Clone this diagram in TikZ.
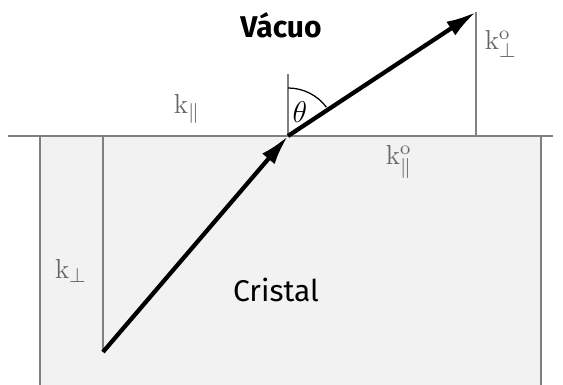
\documentclass[tikz,border=0pt]{standalone}
\usepackage{amsmath,amssymb}
\usepackage{fontspec}
\newfontfamily\labelfont{Fira Sans}
\usepackage{xcolor}
\usetikzlibrary{arrows.meta,calc,positioning}
\definecolor{crystalfill}{HTML}{F2F2F2}
\definecolor{linegray}{HTML}{808080}
\definecolor{labelgray}{HTML}{666666}
\tikzset{
  thinline/.style={draw=linegray,line width=0.6pt},
  kvec/.style={line width=1.7pt,-{Latex[length=12pt,width=6.5pt]}},
  klabel/.style={text=labelgray,inner sep=1pt,font=\fontsize{11}{13}\selectfont}
}

\begin{document}
\begin{tikzpicture}[x=0.4pt,y=0.4pt]
  \useasboundingbox (0,0) rectangle (563,385);
  \fill[crystalfill] (40,0) rectangle (541,249);
  \draw[thinline] (40,0) -- (40,249);
  \draw[thinline] (541,0) -- (541,249);
  \draw[thinline] (8,249) -- (553,249);
  \coordinate (O) at (288,249);
  \coordinate (S) at (103,33);
  \coordinate (Sp) at (103,249);
  \coordinate (E) at (476,373);
  \coordinate (Ep) at (476,249);
  \coordinate (N) at (288,311);
  \draw[thinline] (Sp) -- (S);
  \draw[thinline] (Ep) -- (E);
  \draw[thinline] (O) -- (N);
  \draw[line width=0.5pt] ($(O)+(0,48)$) arc[start angle=90,end angle=36.9,radius=48];
  \draw[kvec] (S) -- (O);
  \draw[kvec] (O) -- (E);
  \node (theta) at (300,273) {\large$\theta$};
  \node[klabel] (kpar) at (187,276) {$\mathrm{k}_{\parallel}$};
  \node[klabel] (kparo) at (399,223) {$\mathrm{k}^{\mathrm{o}}_{\parallel}$};
  \node[klabel] (kperpo) at (501,341) {$\mathrm{k}^{\mathrm{o}}_{\perp}$};
  \node[klabel] (kperp) at (71,114) {$\mathrm{k}_{\perp}$};
  \node (vacuo) at (281,360) {\labelfont\bfseries\large Vácuo};
  \node (cristal) at (276,95) {\labelfont\large Cristal};
\end{tikzpicture}
\end{document}
